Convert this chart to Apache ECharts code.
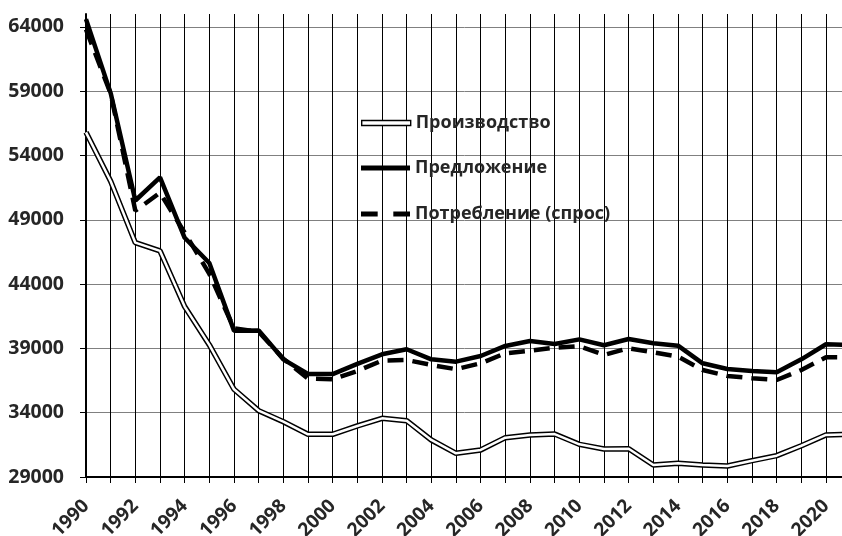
<!DOCTYPE html>
<html>
<head>
<meta charset="utf-8">
<script src="https://cdn.jsdelivr.net/npm/echarts@6/dist/echarts.min.js"></script>
<style>
html,body{margin:0;padding:0;background:#fff;overflow:hidden;width:842px;height:536px;}
#chart{width:842px;height:600px;}
</style>
</head>
<body>
<div id="chart"></div>
<script>
const years = ['1990','1991','1992','1993','1994','1995','1996','1997','1998','1999','2000','2001','2002','2003','2004','2005','2006','2007','2008','2009','2010','2011','2012','2013','2014','2015','2016','2017','2018','2019','2020','2021'];
const production = [55800,52000,47220,46580,42250,39270,35820,34160,33300,32320,32320,32970,33560,33380,31880,30840,31100,32060,32270,32340,31540,31180,31200,29930,30060,29930,29860,30270,30660,31430,32270,32330];
const supply = [64600,58850,50500,52300,47600,45640,40380,40400,38150,37010,37000,37790,38540,38930,38150,37970,38410,39190,39580,39340,39700,39240,39730,39400,39210,37840,37400,37240,37140,38150,39320,39270];
const consumption = [63800,58800,49700,51100,48000,44800,40550,40300,38200,36650,36600,37240,38050,38100,37710,37380,37840,38620,38820,39060,39170,38490,39010,38700,38360,37320,36860,36680,36540,37320,38310,38300];
const yTicks = [29000,34000,39000,44000,49000,54000,59000,64000];
const names = ['Производство','Предложение','Потребление (спрос)'];

const FONT = 'Open Sans';
const TXT = '#262626';
const chart = echarts.init(document.getElementById('chart'), null, {renderer:'canvas'});
const legendBase = {
  orient:'vertical', left:361, itemWidth:49, itemHeight:5, itemGap:5,
  symbolKeepAspect:false, selectedMode:false, padding:0,
  textStyle:{fontFamily:FONT, fontWeight:'bold', fontSize:18, color:TXT}
};
chart.setOption({
  animation:false,
  backgroundColor:'#fff',
  grid:{left:86, right:-8.67, top:14, bottom:123, containLabel:false, outerBoundsMode:'none'},
  legend:[
    Object.assign({}, legendBase, {top:114, data:[{name:names[0], icon:'path://M0,0H49V5H0Z', itemStyle:{color:'#fff', borderColor:'#000', borderWidth:1.4}}]}),
    Object.assign({}, legendBase, {top:159, data:[{name:names[1], icon:'path://M0,0H49V5H0Z', itemStyle:{color:'#000', borderWidth:0}}]}),
    Object.assign({}, legendBase, {top:205, data:[{name:names[2], icon:'path://M0,0H16V5H0Z M31,0H47V5H31Z', itemStyle:{color:'#000', borderWidth:0}}]})
  ],
  xAxis:{
    type:'category', data:years, boundaryGap:false,
    axisLine:{show:true, lineStyle:{color:'#000', width:2}},
    axisTick:{show:true, interval:0, length:6, lineStyle:{color:'#000', width:1}},
    axisLabel:{interval:1, rotate:45, margin:26, hideOverlap:false, fontFamily:FONT, fontWeight:'bold', fontSize:19, color:TXT},
    splitLine:{show:true, interval:0, lineStyle:{color:'#000', width:1}}
  },
  yAxis:{
    type:'value', min:29000, max:65000, interval:5000,
    axisLine:{show:true, lineStyle:{color:'#000', width:2}},
    axisTick:{show:true, length:6, customValues:yTicks, lineStyle:{color:'#000', width:1}},
    axisLabel:{customValues:yTicks, margin:22, formatter:function(v){return String(v);}, fontFamily:FONT, fontWeight:'bold', fontSize:19.5, color:TXT},
    splitLine:{show:true, lineStyle:{color:['#808080','#808080','#808080','#808080','#808080','#808080','#808080','#808080','rgba(0,0,0,0)'], width:1}}
  },
  series:[
    {name:names[0], type:'line', data:production, symbol:'none', lineStyle:{color:'#000', width:5.5}, itemStyle:{color:'#000'}, z:2},
    {name:'prod-inner', type:'line', data:production, symbol:'none', lineStyle:{color:'#fff', width:2.5}, itemStyle:{color:'#fff'}, z:3},
    {name:names[1], type:'line', data:supply, symbol:'none', lineStyle:{color:'#000', width:4.5}, itemStyle:{color:'#000'}, z:4},
    {name:names[2], type:'line', data:consumption, symbol:'none', lineStyle:{color:'#000', width:4.5, type:[16,9]}, itemStyle:{color:'#000'}, z:5}
  ]
});
</script>
</body>
</html>
